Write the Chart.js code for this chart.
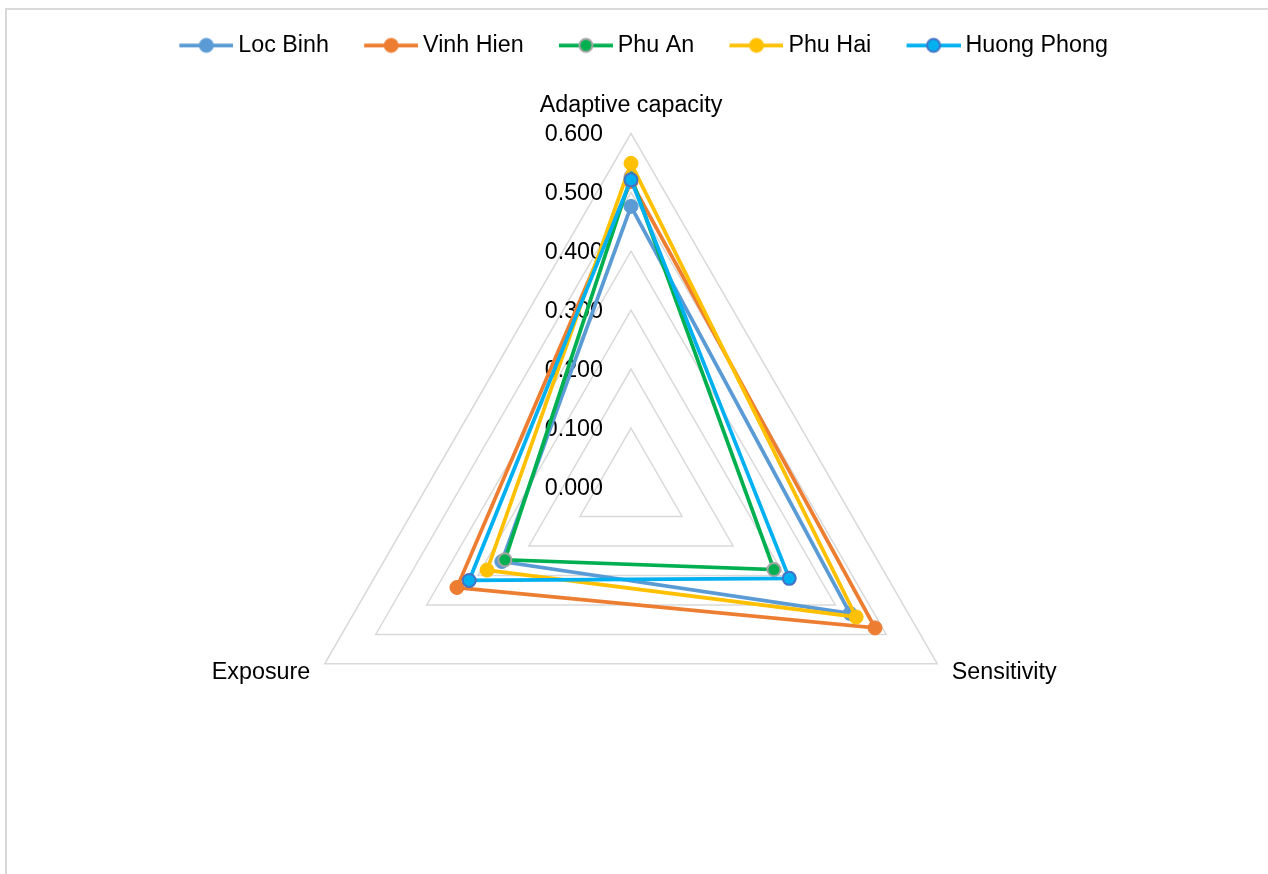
<!DOCTYPE html>
<html>
<head>
<meta charset="utf-8">
<script src="https://cdn.jsdelivr.net/npm/chart.js@4.4.1/dist/chart.umd.min.js"></script>
<style>
  html, body { margin: 0; padding: 0; background: #fff; overflow: hidden; }
  #frame { position: absolute; left: 5px; top: 8px; width: 1400px; height: 1000px;
           border-left: 2px solid #D9D9D9; border-top: 2px solid #D9D9D9; }
  #radar_chart { position: absolute; left: 0; top: 0; }
</style>
</head>
<body>
<div id="frame"></div>
<canvas id="radar_chart" width="1268" height="874"></canvas>
<script>
var axisLabels = ["Adaptive capacity", "Sensitivity", "Exposure"];
var seriesNames = ["Loc Binh", "Vinh Hien", "Phu An", "Phu Hai", "Huong Phong"];
var locBinh = [0.476, 0.429, 0.253];
var vinhHien = [0.518, 0.478, 0.341];
var phuAn = [0.526, 0.280, 0.247];
var phuHai = [0.549, 0.441, 0.282];
var huongPhong = [0.521, 0.310, 0.317];
var tickLabels = ["0.000", "0.100", "0.200", "0.300", "0.400", "0.500", "0.600"];

var lineColors = ['#5B9BD5', '#ED7D31', '#00B050', '#FFC000', '#00B0F0'];
var markerBorders = ['#5B9BD5', '#ED7D31', '#A5A5A5', '#FFC000', '#4472C4'];
var markerBorderWidths = [1, 1, 2, 1, 2];
var markerRadius = [7, 7, 6.5, 7, 6.5];

var fontFamily = '"Liberation Sans", Arial, sans-serif';
var fontSize = 23.3;
Chart.defaults.font.family = fontFamily;
Chart.defaults.color = '#000';

// small line+marker pictures used as the legend point styles
function makeLegendIcon(i) {
    var c = document.createElement('canvas');
    c.width = 86;
    c.height = 20;
    var g = c.getContext('2d');
    g.strokeStyle = lineColors[i];
    g.lineWidth = 3.75;
    g.beginPath();
    g.moveTo(32, 10);
    g.lineTo(86, 10);
    g.stroke();
    g.beginPath();
    g.arc(59, 10, markerRadius[i], 0, Math.PI * 2);
    g.fillStyle = lineColors[i];
    g.fill();
    g.lineWidth = markerBorderWidths[i];
    g.strokeStyle = markerBorders[i];
    g.stroke();
    return c;
}

var seriesValues = [locBinh, vinhHien, phuAn, phuHai, huongPhong];
var datasets = [];
for (var i = 0; i < seriesNames.length; i++) {
    datasets.push({
        label: seriesNames[i],
        data: seriesValues[i],
        borderColor: lineColors[i],
        borderWidth: 3.75,
        fill: false,
        tension: 0,
        pointRadius: markerRadius[i],
        pointHoverRadius: markerRadius[i],
        pointBackgroundColor: lineColors[i],
        pointBorderColor: markerBorders[i],
        pointBorderWidth: markerBorderWidths[i],
        order: seriesNames.length - i
    });
}
var legendIcons = seriesNames.map(function (n, i) { return makeLegendIcon(i); });

// value labels sit left of the vertical axis, under the series lines
var tickLabelPlugin = {
    id: 'tickLabelPlugin',
    beforeDatasetsDraw: function (chart) {
        var scale = chart.scales.r;
        var ctx = chart.ctx;
        ctx.save();
        ctx.font = fontSize + 'px ' + fontFamily;
        ctx.fillStyle = '#000';
        ctx.textAlign = 'right';
        ctx.textBaseline = 'middle';
        scale.ticks.forEach(function (tick, k) {
            if (k >= tickLabels.length) return;
            var dist = scale.getDistanceFromCenterForValue(tick.value);
            ctx.fillText(tickLabels[k], scale.xCenter - 28, scale.yCenter - dist + 1.5);
        });
        ctx.restore();
    }
};

var ctx = document.getElementById("radar_chart").getContext('2d');
var chart = new Chart(ctx, {
    type: 'radar',
    data: {
        labels: axisLabels,
        datasets: datasets
    },
    options: {
        responsive: false,
        animation: false,
        devicePixelRatio: 1,
        layout: {padding: {top: 23.7, left: 130, right: 136, bottom: 10}},
        plugins: {
            tooltip: {enabled: false},
            legend: {
                position: 'top',
                labels: {
                    usePointStyle: true,
                    pointStyleWidth: 72.5,
                    padding: 10,
                    color: '#000',
                    font: {size: fontSize},
                    generateLabels: function (chart) {
                        return chart.data.datasets.map(function (ds, k) {
                            return {
                                text: ds.label,
                                pointStyle: legendIcons[k],
                                datasetIndex: k,
                                hidden: false,
                                lineWidth: 0,
                                fillStyle: 'transparent',
                                strokeStyle: 'transparent',
                                fontColor: '#000'
                            };
                        });
                    }
                }
            }
        },
        scales: {
            r: {
                min: 0,
                max: 0.6,
                ticks: {stepSize: 0.1, display: false},
                grid: {circular: false, color: '#D9D9D9', lineWidth: 1.5},
                angleLines: {display: false},
                pointLabels: {
                    display: true,
                    color: '#000',
                    font: function (c) {
                        return {size: fontSize, lineHeight: c.index === 0 ? '32.6px' : '1px'};
                    },
                    padding: function (c) {
                        return c.index === 0 ? 11.7 : 16.7;
                    }
                }
            }
        }
    },
    plugins: [tickLabelPlugin]
});
</script>
</body>
</html>
